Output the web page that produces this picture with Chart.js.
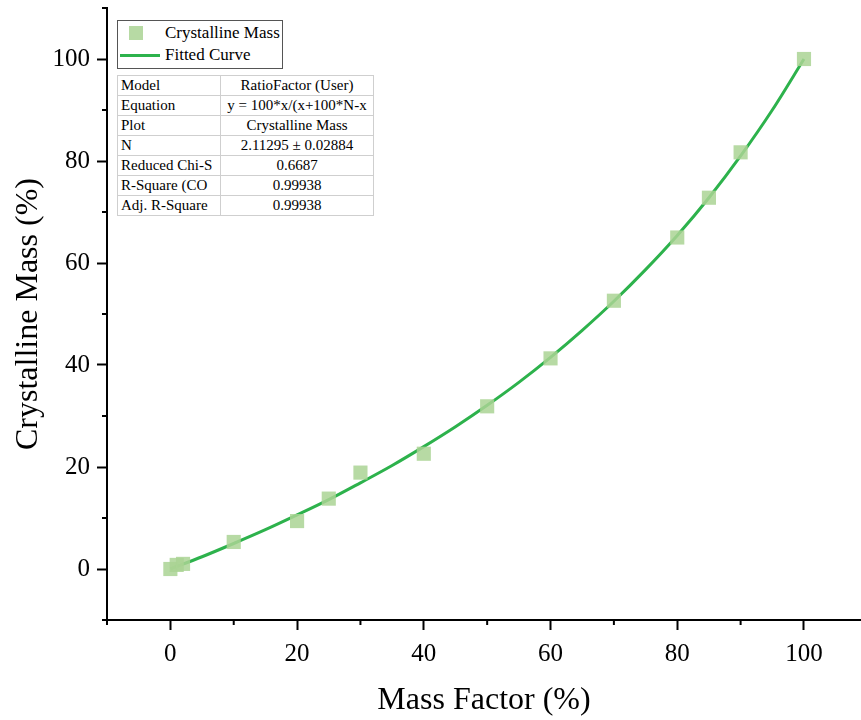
<!DOCTYPE html>
<html>
<head>
<meta charset="utf-8">
<script src="https://cdn.jsdelivr.net/npm/chart.js@4.4.1/dist/chart.umd.min.js"></script>
<style>
  html, body { margin: 0; padding: 0; background: #fff; }
  #wrap { position: relative; width: 861px; height: 720px; overflow: hidden; font-family: 'Liberation Serif', 'Times New Roman', serif; }
  canvas { position: absolute; left: 0; top: 0; }
  #legend { position: absolute; left: 117px; top: 20px; width: 164px; height: 47px; border: 1px solid #555; background: #fff; }
  #legend .row { position: absolute; left: 0; height: 22px; width: 100%; font-size: 17px; line-height: 22px; color: #000; }
  #legend .sym { position: absolute; }
  #legend .txt { position: absolute; left: 47px; white-space: nowrap; }
  #stats { position: absolute; left: 117px; top: 75px; border-collapse: collapse; background: #fff; font-size: 15px; color: #000; table-layout: fixed; }
  #stats td { border: 1px solid #cfcfcf; height: 19px; padding: 0 3px; white-space: nowrap; overflow: hidden; line-height: 19px; }
  #stats td.k { width: 96px; text-align: left; }
  #stats td.v { width: 146px; text-align: center; }
</style>
</head>
<body>
<div id="wrap">
  <canvas id="c" width="861" height="720"></canvas>
  <div id="legend"></div>
  <table id="stats"></table>
</div>
<script>
// ---- data ----
const massFactor = [0, 1, 2, 10, 20, 25, 30, 40, 50, 60, 70, 80, 85, 90, 100];
const crystallineMass = [0, 0.8, 1.0, 5.3, 9.4, 13.8, 18.9, 22.6, 31.9, 41.3, 52.6, 65.0, 72.8, 81.7, 100];

const fitX = [0, 5, 10, 15, 20, 25, 30, 35, 40, 45, 50, 55, 60, 65, 70, 75, 80, 85, 90, 95, 100];
const fitY = [0, 2.4, 5.0, 7.7, 10.6, 13.6, 16.9, 20.3, 24.0, 27.9, 32.1, 36.6, 41.5, 46.8, 52.5, 58.7, 65.4, 72.8, 81.0, 90.0, 100];

const xTickLabels = [0, 20, 40, 60, 80, 100];
const yTickLabels = [0, 20, 40, 60, 80, 100];

const seriesNames = ['Crystalline Mass', 'Fitted Curve'];
const axisTitles = ['Mass Factor (%)', 'Crystalline Mass (%)'];

const statKeys = ['Model', 'Equation', 'Plot', 'N', 'Reduced Chi-S', 'R-Square (CO', 'Adj. R-Square'];
const statValues = ['RatioFactor (User)', 'y = 100*x/(x+100*N-x', 'Crystalline Mass', '2.11295 \u00b1 0.02884', '0.6687', '0.99938', '0.99938'];

// ---- styles ----
const markerColor = 'rgba(170, 212, 148, 0.85)';
const lineColor = '#2db24c';
const FONT = "'Liberation Serif', 'Times New Roman', serif";
Chart.defaults.font.family = FONT;

// ---- legend & stats table (HTML text) ----
const legend = document.getElementById('legend');
legend.innerHTML =
  '<div class="row" style="top:1px"><div class="sym" style="left:11px;top:4px;width:14px;height:14px;background:' + markerColor + '"></div><div class="txt">' + seriesNames[0] + '</div></div>' +
  '<div class="row" style="top:23px"><div class="sym" style="left:2px;top:10px;width:40px;height:3px;background:' + lineColor + '"></div><div class="txt">' + seriesNames[1] + '</div></div>';

const stats = document.getElementById('stats');
stats.innerHTML = statKeys.map((k, i) => '<tr><td class="k">' + k + '</td><td class="v">' + statValues[i] + '</td></tr>').join('');

// ---- chart ----
const isMajor = (v) => Math.abs(v % 20) < 1e-9 && v >= 0 && v <= 100;
const noPad = (s) => { s.paddingLeft = 0; s.paddingRight = 0; s.paddingTop = 0; s.paddingBottom = 0; };

const minorTicks = {
  id: 'minorTicks',
  afterDraw(chart) {
    const ctx = chart.ctx;
    const xs = chart.scales.x, ys = chart.scales.y;
    ctx.save();
    ctx.strokeStyle = '#000';
    ctx.lineWidth = 2;
    for (let v = -10; v <= 110; v += 20) {
      if (v >= xs.min && v <= xs.max) {
        const px = xs.getPixelForValue(v);
        ctx.beginPath(); ctx.moveTo(px, xs.top); ctx.lineTo(px, xs.top + 5); ctx.stroke();
      }
      if (v >= ys.min && v <= ys.max) {
        const py = ys.getPixelForValue(v);
        ctx.beginPath(); ctx.moveTo(ys.right, py); ctx.lineTo(ys.right - 5, py); ctx.stroke();
      }
    }
    ctx.restore();
  }
};

new Chart(document.getElementById('c'), {
  type: 'scatter',
  data: {
    datasets: [
      {
        label: seriesNames[0],
        data: massFactor.map((x, i) => ({ x: x, y: crystallineMass[i] })),
        pointStyle: 'rect',
        pointRadius: 10,
        pointHoverRadius: 10,
        pointBorderWidth: 0,
        backgroundColor: markerColor,
        borderColor: markerColor,
        showLine: false
      },
      {
        label: seriesNames[1],
        data: fitX.map((x, i) => ({ x: x, y: fitY[i] })),
        showLine: true,
        pointRadius: 0,
        borderColor: lineColor,
        borderWidth: 3,
        cubicInterpolationMode: 'monotone',
        fill: false
      }
    ]
  },
  options: {
    responsive: false,
    animation: false,
    layout: { autoPadding: false, padding: { top: 8, right: 0, left: 0, bottom: 0 } },
    plugins: { legend: { display: false }, tooltip: { enabled: false } },
    scales: {
      x: {
        type: 'linear',
        min: -10,
        max: 109,
        afterFit(s) { s.height = 100; noPad(s); },
        border: { display: true, color: '#000', width: 2 },
        grid: {
          drawOnChartArea: false,
          drawTicks: true,
          tickLength: 10,
          tickWidth: 2,
          tickColor: (c) => (c.tick && isMajor(c.tick.value)) ? '#000' : 'rgba(0,0,0,0)'
        },
        ticks: {
          stepSize: 10,
          includeBounds: false,
          autoSkip: false,
          maxRotation: 0,
          padding: 9,
          color: '#000',
          font: { family: FONT, size: 25 },
          callback: (v) => xTickLabels.includes(v) ? String(v) : ''
        },
        title: {
          display: true,
          text: axisTitles[0],
          color: '#000',
          font: { family: FONT, size: 32 },
          padding: { top: 0, bottom: 0 }
        }
      },
      y: {
        type: 'linear',
        min: -10,
        max: 110,
        afterFit(s) { s.width = 107; noPad(s); },
        border: { display: true, color: '#000', width: 2 },
        grid: {
          drawOnChartArea: false,
          drawTicks: true,
          tickLength: 10,
          tickWidth: 2,
          tickColor: (c) => (c.tick && isMajor(c.tick.value)) ? '#000' : 'rgba(0,0,0,0)'
        },
        ticks: {
          stepSize: 10,
          includeBounds: false,
          autoSkip: false,
          padding: 7,
          color: '#000',
          font: { family: FONT, size: 25 },
          callback: (v) => yTickLabels.includes(v) ? String(v) : ''
        },
        title: {
          display: true,
          text: axisTitles[1],
          color: '#000',
          font: { family: FONT, size: 32 },
          padding: { top: 9, bottom: 0 }
        }
      }
    }
  },
  plugins: [minorTicks]
});
</script>
</body>
</html>
